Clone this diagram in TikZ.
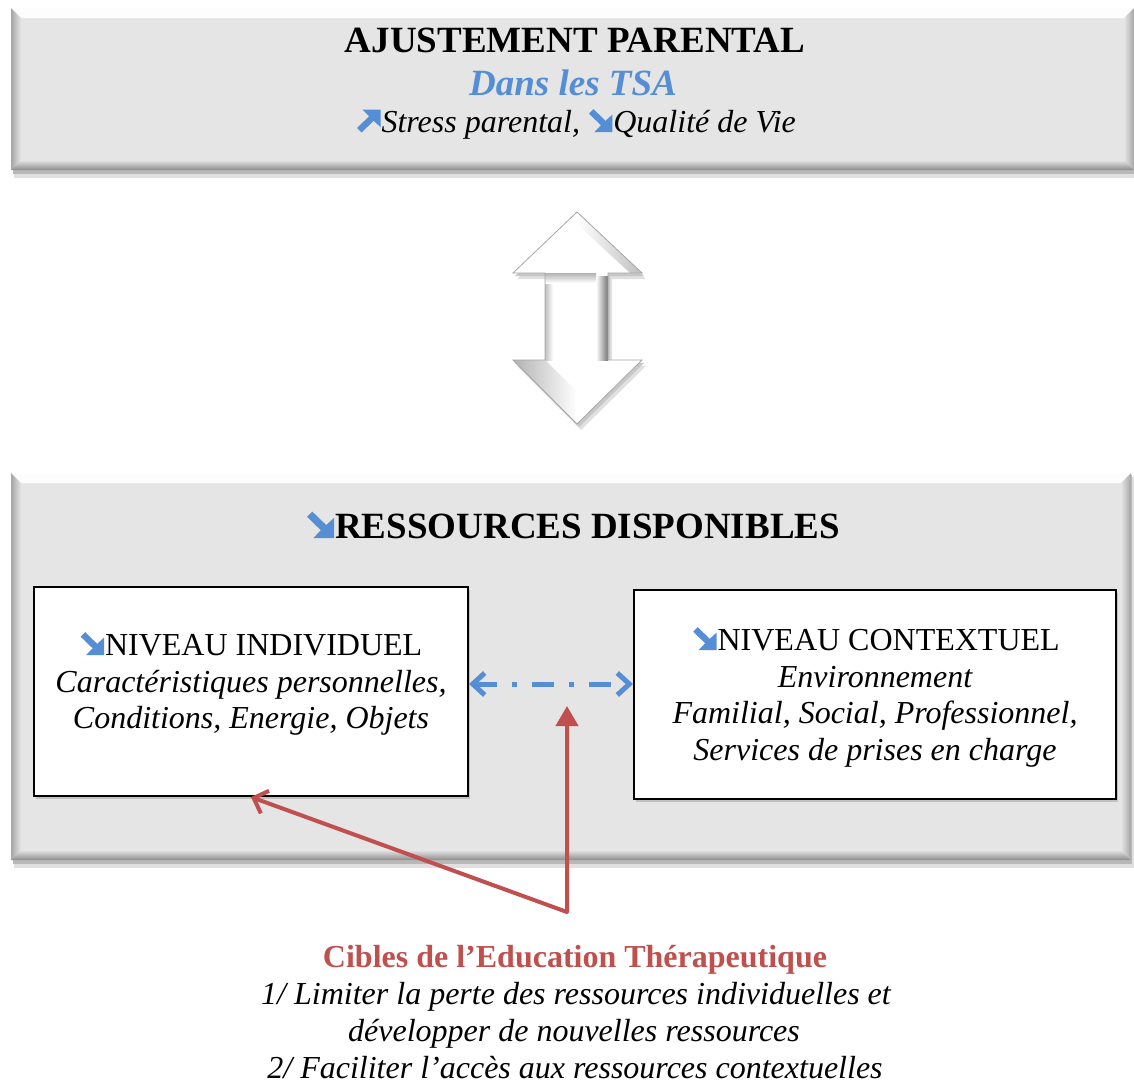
\documentclass[tikz,border=0pt]{standalone}
\usepackage{fontspec}
\setmainfont{Liberation Serif}
\usepackage{tikz}
\usetikzlibrary{arrows.meta,calc,positioning,shadows}

\definecolor{tsablue}{RGB}{85,142,213}
\definecolor{etpred}{RGB}{192,80,77}
\definecolor{boxgray}{RGB}{229,229,229}
\newcommand{\bodysize}{\fontsize{16}{18.5}\selectfont}
\newcommand{\bigsize}{\fontsize{18.5}{22}\selectfont}
% fat blue arrows in front of the texts
\newcommand{\arrdown}{\tikz[baseline=0pt,x=0.72em,y=0.7em]{
		\draw[tsablue,line width=0.2em] (0.08,0.92) -- (0.75,0.25);
		\fill[tsablue] (0.22,0) -- (1,0) -- (1,0.78) -- (0.7,0.5) -- (0.7,0.3) -- (0.5,0.3) -- cycle;}\kern0.03em}
\newcommand{\arrup}{\tikz[baseline=0pt,x=0.72em,y=0.7em]{
		\draw[tsablue,line width=0.2em] (0.08,0.08) -- (0.75,0.75);
		\fill[tsablue] (0.22,1) -- (1,1) -- (1,0.22) -- (0.7,0.5) -- (0.7,0.7) -- (0.5,0.7) -- cycle;}\kern0.03em}

\tikzset{
	txt/.style={anchor=base,inner sep=0pt,font=\bodysize},
	levelbox/.style={draw,line width=1pt,fill=white,inner sep=0pt,minimum height=104.5pt,
		drop shadow={shadow xshift=1pt,shadow yshift=-1.5pt,opacity=0.35}},
	dasharrow/.style={tsablue,line width=2.5pt,dash pattern=on 11pt off 7.5pt on 2.5pt off 7.5pt,
		{Straight Barb[length=6pt,width=11pt]}-{Straight Barb[length=6pt,width=11pt]}},
	redline/.style={etpred,line width=2pt,line join=round},
}

\begin{document}
\begin{tikzpicture}[x=0.5pt,y=-0.5pt]
	\useasboundingbox (0,0) rectangle (1134,1082);
	%bevelled panels
	\foreach \ya/\yb/\xb in {8/170/1134,473/860/1131}{
		\fill[black!12] (14,\ya+4) rectangle (\xb+3,\yb+8);
		\fill[black!28] (13,\ya+2) rectangle (\xb+1,\yb+4);
		\fill[boxgray] (11,\ya) rectangle (\xb,\yb);
		\fill[white!92!boxgray] (11,\ya) -- (\xb,\ya) -- (\xb-10,\ya+10) -- (21,\ya+10) -- cycle;
		\shade[left color=black!35,right color=boxgray] (11,\ya) -- (21,\ya+10) -- (21,\yb-10) -- (11,\yb) -- cycle;
		\shade[top color=boxgray,bottom color=black!45] (11,\yb) -- (21,\yb-10) -- (\xb-10,\yb-10) -- (\xb,\yb) -- cycle;
		\shade[left color=boxgray,right color=black!35] (\xb,\ya) -- (\xb-10,\ya+10) -- (\xb-10,\yb-10) -- (\xb,\yb) -- cycle;
	}
	%top panel text
	\node[txt,font=\bigsize\bfseries] (title) at (575,52) {AJUSTEMENT PARENTAL};
	\node[txt,font=\bigsize\bfseries\itshape,tsablue] (tsa) at (573,95) {Dans les TSA};
	\node[txt,font=\bodysize\itshape] (stress) at (576,132) {\arrup Stress parental, \arrdown Qualité de Vie};
	%double arrow
	\foreach \dx/\dy/\col in {4/6/black!12,2/3/black!22,0/0/white}
		\fill[\col,shift={(\dx,\dy)}] (577,212) -- (642,273) -- (608,273) -- (608,360) -- (642,360) -- (577,424)
			-- (513,360) -- (545,360) -- (545,273) -- (513,273) -- cycle;
	\shade[left color=white,right color=black!55] (596,276) rectangle (608,360);
	\shade[left color=black!25,right color=white] (545,276) rectangle (553,360);
	\shade[top color=black!30,bottom color=white] (545,273) rectangle (596,283);
	\shade[left color=black!30,right color=white] (513,360) -- (545,360) -- (577,392) -- (577,424) -- cycle;
	\shade[left color=white,right color=black!25] (577,212) -- (642,273) -- (630,273) -- (577,224) -- cycle;
	\draw[black!35,line width=0.4pt] (577,212) -- (642,273) -- (608,273) -- (608,360) -- (642,360) -- (577,424)
		-- (513,360) -- (545,360) -- (545,273) -- (513,273) -- cycle;
	%lower panel
	\node[txt,font=\bigsize\bfseries] (res) at (573,538) {\arrdown RESSOURCES DISPONIBLES};
	\node[levelbox,minimum width=217pt] (indiv) at (251,691.5) {};
	\node[levelbox,minimum width=241pt] (contx) at (875,694.5) {};
	\node[txt] (ind1) at (251,655) {\arrdown NIVEAU INDIVIDUEL};
	\node[txt,font=\bodysize\itshape] (ind2) at (251,692) {Caractéristiques personnelles,};
	\node[txt,font=\bodysize\itshape] (ind3) at (251,728) {Conditions, Energie, Objets};
	\node[txt] (ctx1) at (876,650) {\arrdown NIVEAU CONTEXTUEL};
	\node[txt,font=\bodysize\itshape] (ctx2) at (875,687) {Environnement};
	\node[txt,font=\bodysize\itshape] (ctx3) at (875,723) {Familial, Social, Professionnel,};
	\node[txt,font=\bodysize\itshape] (ctx4) at (875,760) {Services de prises en charge};
	%link between levels
	\coordinate (link) at (550,684);
	\draw[dasharrow] (indiv.east |- link) -- (contx.west |- link);
	%targets
	\coordinate (apex) at (567,912);
	\coordinate (aim) at (567,706);
	\draw[redline,{Straight Barb[length=6pt,width=12pt]}-{Triangle[length=10pt,width=11pt]}] (indiv.south) -- (apex) -- (aim);
	\node[txt,font=\bodysize\bfseries,etpred] (cibles) at (575,967) {Cibles de l’Education Thérapeutique};
	\node[txt,font=\bodysize\itshape] (goal1) at (576,1004) {1/ Limiter la perte des ressources individuelles et};
	\node[txt,font=\bodysize\itshape] (goal2) at (574,1041) {développer de nouvelles ressources};
	\node[txt,font=\bodysize\itshape] (goal3) at (575,1078) {2/ Faciliter l’accès aux ressources contextuelles};
\end{tikzpicture}
\end{document}
